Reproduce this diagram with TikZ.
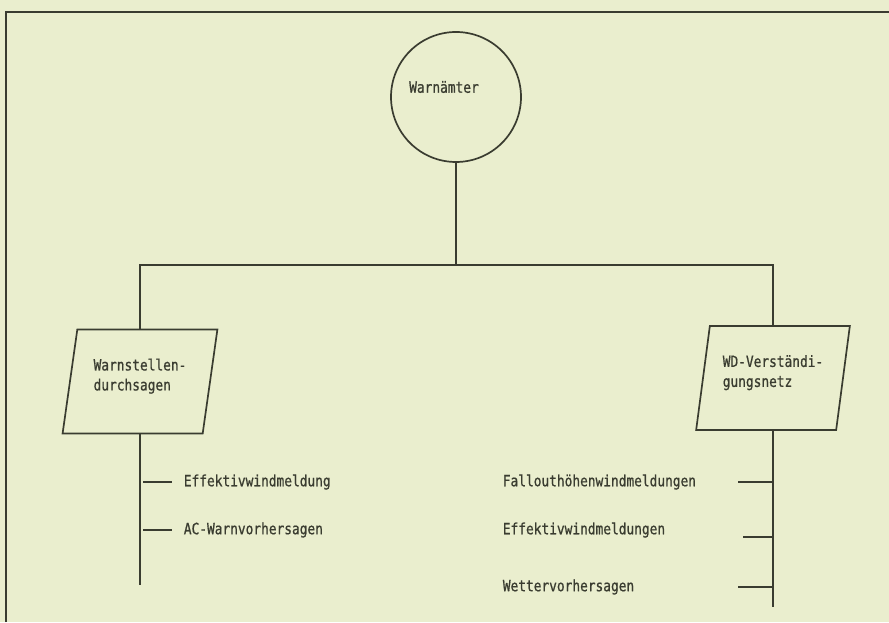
\documentclass[tikz,border=0pt]{standalone}
\usepackage{fontspec}
\setmonofont[FakeStretch=0.83, FakeBold=0.8]{DejaVu Sans Mono}
\usepackage{xcolor}
\usepackage{tikz}
\usetikzlibrary{positioning, calc, shapes.geometric}
\definecolor{paper}{RGB}{234,238,206}
\definecolor{ink}{RGB}{58,60,48}

\begin{document}
\begin{tikzpicture}[
    line width=1.2pt, color=ink,
    every node/.style={font=\ttfamily\fontsize{11}{14.2}\selectfont},
    station/.style={draw, circle, minimum size=3.25cm, inner sep=0pt},
    channel/.style={draw, trapezium, trapezium left angle=77, trapezium right angle=103,
        trapezium stretches=true, minimum width=3.875cm, minimum height=2.6cm,
        inner sep=1pt, align=left},
    msg/.style={anchor=west, inner sep=0pt},
]
    \fill[paper] (0,0) rectangle (22.225,15.55);
    \useasboundingbox (0,0) rectangle (22.225,15.55);
    \draw (0.15,0) -- (0.15,15.25) -- (22.225,15.25);

    \node[station] (warn) at (11.4,13.125) {};
    \node (warntxt) at ($(warn.center)+(-0.3,0.25)$) {Warnämter};
    \coordinate (split) at (11.4,8.925);

    \node[channel] (durch) at (3.5,6.0125) {Warnstellen-\\durchsagen\\[-1.5mm]};
    \node[channel] (netz) at (19.325,6.1) {WD-Verständi-\\gungsnetz\\[-1.5mm]};

    \draw (warn) -- (split);
    \draw (durch.center |- durch.north) |- (split) -| (netz.center |- netz.north);

    \coordinate (lend) at (3.5,0.925);
    \coordinate (rend) at (19.325,0.375);
    \draw (durch.center |- durch.south) -- (lend);
    \draw (netz.center |- netz.south) -- (rend);

    \node[msg] (eff) at (4.575,3.5) {Effektivwindmeldung};
    \node[msg] (acw) at (4.575,2.3) {AC-Warnvorhersagen};
    \draw ([xshift=-10mm]eff.west) -- ([xshift=-2.75mm]eff.west);
    \draw ([xshift=-10mm]acw.west) -- ([xshift=-2.75mm]acw.west);

    \node[msg] (fall) at (12.55,3.5) {Fallouthöhenwindmeldungen};
    \node[msg] (effs) at (12.55,2.3) {Effektivwindmeldungen};
    \node[msg] (wett) at (12.55,0.875) {Wettervorhersagen};
    \draw (fall.west -| rend) -- ++(-0.875,0);
    \draw ([yshift=-1.75mm]effs.west -| rend) -- ++(-0.75,0);
    \draw (wett.west -| rend) -- ++(-0.875,0);
\end{tikzpicture}
\end{document}
